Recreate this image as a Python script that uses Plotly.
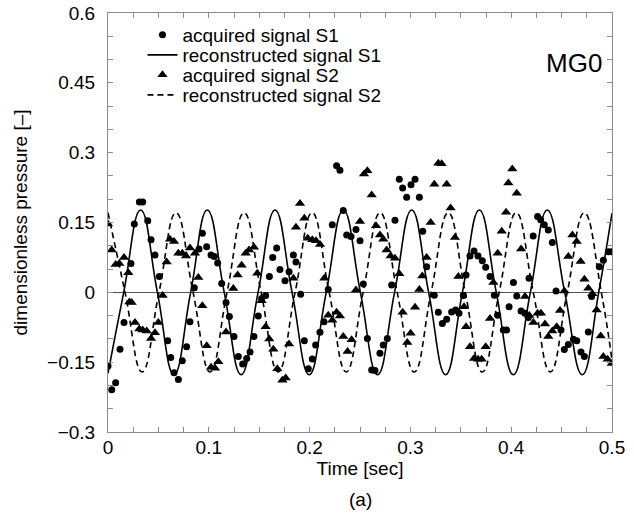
import plotly.graph_objects as go

# ---------------- data ----------------
# acquired signal S1 (circles)
t_s1 = [0.0, 0.0037, 0.0076, 0.0119, 0.0159, 0.0228, 0.0261, 0.0311, 0.0344, 0.0394,
        0.0427, 0.0466, 0.0509, 0.0592, 0.0622, 0.0655, 0.0698, 0.0737, 0.0780, 0.0813,
        0.0856, 0.0903, 0.0936, 0.0979, 0.1022, 0.1055, 0.1088, 0.1128, 0.1171, 0.1204,
        0.1250, 0.1293, 0.1336, 0.1376, 0.1409, 0.1448, 0.1491, 0.1524, 0.1564, 0.1601,
        0.1634, 0.1673, 0.1706, 0.1756, 0.1796, 0.1839, 0.1865, 0.1911, 0.1948, 0.1987,
        0.2027, 0.2060, 0.2103, 0.2143, 0.2185, 0.2225, 0.2268, 0.2301, 0.2334, 0.2368,
        0.2411, 0.2460, 0.2500, 0.2533, 0.2573, 0.2616, 0.2649, 0.2698, 0.2731, 0.2771,
        0.2814, 0.2847, 0.2890, 0.2923, 0.2963, 0.3006, 0.3046, 0.3089, 0.3122, 0.3161,
        0.3237, 0.3277, 0.3317, 0.3360, 0.3409, 0.3449, 0.3482, 0.3525, 0.3552, 0.3591,
        0.3631, 0.3671, 0.3714, 0.3747, 0.3790, 0.3833, 0.3866, 0.3922, 0.3955, 0.3979,
        0.4022, 0.4055, 0.4098, 0.4137, 0.4170, 0.4177, 0.4218, 0.4262, 0.4292, 0.4328,
        0.4368, 0.4408, 0.4445, 0.4494, 0.4527, 0.4567, 0.4617, 0.4650, 0.4692, 0.4726,
        0.4765, 0.4798, 0.4874, 0.4914, 0.4964, 0.4997]
p_s1 = [-0.158, -0.209, -0.194, -0.122, -0.065, 0.062, 0.147, 0.194, 0.194, 0.154,
        0.113, 0.080, 0.034, -0.104, -0.140, -0.173, -0.187, -0.147, -0.117, -0.063,
        0.010, 0.093, 0.127, 0.098, 0.080, 0.077, 0.063, 0.019, -0.022, -0.052,
        -0.095, -0.138, -0.154, -0.142, -0.128, -0.095, -0.051, -0.013, -0.007, 0.034,
        0.075, 0.095, 0.049, 0.025, 0.044, 0.080, 0.065, -0.004, -0.104, -0.164,
        -0.143, -0.113, -0.086, -0.063, 0.006, 0.145, 0.272, 0.262, 0.176, 0.123,
        0.120, 0.135, 0.111, 0.018, -0.099, -0.167, -0.168, -0.131, -0.113, -0.099,
        0.016, 0.155, 0.243, 0.224, 0.204, 0.231, 0.243, 0.204, 0.131, 0.055,
        -0.006, -0.043, -0.067, -0.058, -0.042, -0.038, -0.045, -0.007, 0.037, 0.078,
        0.089, 0.078, 0.068, 0.054, 0.034, -0.006, -0.049, -0.081, -0.081, -0.031,
        0.021, -0.008, -0.040, -0.045, -0.054, 0.030, 0.121, 0.163, 0.156, 0.145,
        0.134, 0.107, 0.003, -0.081, -0.123, -0.112, -0.101, -0.104, -0.128, -0.138,
        -0.085, -0.009, 0.055, 0.069, 0.087, 0.087]

# acquired signal S2 (triangles)
t_s2 = [0.0, 0.0037, 0.0076, 0.0112, 0.0159, 0.0202, 0.0212, 0.0235, 0.0268, 0.0311,
        0.0344, 0.0384, 0.0427, 0.0466, 0.0499, 0.0542, 0.0582, 0.0615, 0.0655, 0.0698,
        0.0737, 0.0774, 0.0813, 0.0863, 0.0896, 0.0936, 0.0979, 0.1022, 0.1062, 0.1095,
        0.1171, 0.1243, 0.1286, 0.1326, 0.1366, 0.1399, 0.1448, 0.1481, 0.1524, 0.1564,
        0.1600, 0.1640, 0.1680, 0.1730, 0.1763, 0.1796, 0.1839, 0.1865, 0.1905, 0.1948,
        0.1981, 0.2027, 0.2064, 0.2103, 0.2146, 0.2185, 0.2225, 0.2268, 0.2301, 0.2334,
        0.2377, 0.2417, 0.2460, 0.2500, 0.2540, 0.2573, 0.2616, 0.2659, 0.2698, 0.2731,
        0.2764, 0.2804, 0.2847, 0.2890, 0.2923, 0.2969, 0.3002, 0.3046, 0.3089, 0.3118,
        0.3161, 0.3201, 0.3237, 0.3277, 0.3310, 0.3360, 0.3399, 0.3442, 0.3476, 0.3532,
        0.3552, 0.3591, 0.3631, 0.3671, 0.3707, 0.3747, 0.3790, 0.3823, 0.3866, 0.3906,
        0.3949, 0.3972, 0.4011, 0.4055, 0.4098, 0.4137, 0.4180, 0.4220, 0.4262, 0.4295,
        0.4335, 0.4368, 0.4408, 0.4451, 0.4484, 0.4527, 0.4567, 0.4607, 0.4650, 0.4689,
        0.4726, 0.4765, 0.4805, 0.4848, 0.4888, 0.4914, 0.4957, 0.4997]
p_s2 = [0.147, 0.091, 0.060, 0.062, 0.075, 0.042, -0.021, -0.022, -0.065, -0.079,
        -0.081, -0.083, -0.099, -0.087, -0.065, -0.007, 0.065, 0.114, 0.109, 0.084,
        0.084, 0.078, 0.095, 0.084, 0.032, -0.029, -0.115, -0.161, -0.163, -0.149,
        -0.085, 0.008, 0.037, 0.058, 0.084, 0.091, 0.097, 0.041, -0.018, -0.074,
        -0.100, -0.122, -0.164, -0.189, -0.184, -0.111, 0.030, 0.140, 0.191, 0.159,
        0.116, 0.113, 0.111, 0.103, 0.030, -0.049, -0.060, -0.043, -0.051, -0.095,
        -0.127, -0.102, 0.005, 0.152, 0.254, 0.261, 0.209, 0.143, 0.123, 0.114,
        0.091, 0.078, 0.073, 0.040, -0.043, -0.108, -0.088, -0.032, 0.006, 0.035,
        0.075, 0.150, 0.232, 0.277, 0.276, 0.232, 0.181, 0.118, 0.034, -0.031,
        -0.074, -0.117, -0.142, -0.144, -0.144, -0.117, -0.056, 0.021, 0.084, 0.131,
        0.172, 0.235, 0.265, 0.213, 0.093, -0.009, -0.050, -0.065, -0.045, -0.045,
        -0.068, -0.095, -0.083, -0.074, -0.039, 0.003, 0.077, 0.123, 0.109, 0.066,
        0.028, 0.009, -0.003, -0.038, -0.094, -0.138, -0.144, -0.153]

# reconstructed signal S1: crests, zero crossings and troughs
t_r1 = [0.0, 0.0156, 0.0324, 0.0490, 0.0655, 0.0820, 0.0985, 0.1153, 0.1321, 0.1489,
        0.1657, 0.1826, 0.1996, 0.2165, 0.2335, 0.2504, 0.2674, 0.2843, 0.3013, 0.3181,
        0.3349, 0.3516, 0.3684, 0.3852, 0.4021, 0.4190, 0.4358, 0.4531, 0.4705, 0.4868,
        0.5]
p_r1 = [-0.174, 0.0, 0.177, 0.0, -0.177, 0.0, 0.177, 0.0, -0.177, 0.0,
        0.177, 0.0, -0.177, 0.0, 0.177, 0.0, -0.177, 0.0, 0.177, 0.0,
        -0.177, 0.0, 0.177, 0.0, -0.177, 0.0, 0.177, 0.0, -0.177, 0.0,
        0.170]

# reconstructed signal S2: crests, zero crossings and troughs
t_r2 = [0.0, 0.0169, 0.0338, 0.0506, 0.0675, 0.0844, 0.1013, 0.1181, 0.1350, 0.1519,
        0.1688, 0.1856, 0.2025, 0.2194, 0.2363, 0.2531, 0.2700, 0.2869, 0.3038, 0.3206,
        0.3375, 0.3544, 0.3713, 0.3881, 0.4050, 0.4219, 0.4388, 0.4556, 0.4725, 0.4894,
        0.5]
p_r2 = [0.171, 0.0, -0.171, 0.0, 0.171, 0.0, -0.171, 0.0, 0.171, 0.0,
        -0.171, 0.0, 0.171, 0.0, -0.171, 0.0, 0.171, 0.0, -0.171, 0.0,
        0.171, 0.0, -0.171, 0.0, 0.171, 0.0, -0.171, 0.0, 0.171, 0.0,
        -0.146]

x_tickvals = [0, 0.1, 0.2, 0.3, 0.4, 0.5]
x_ticktext = ["0", "0.1", "0.2", "0.3", "0.4", "0.5"]
y_tickvals = [-0.3, -0.15, 0, 0.15, 0.3, 0.45, 0.6]
y_ticktext = ["\u22120.3", "\u22120.15", "0", "0.15", "0.3", "0.45", "0.6"]

# ---------------- figure ----------------
FONT = "Liberation Sans, Arial, Helvetica, sans-serif"
FS = 19
FRAME = "#8c8c8c"

fig = go.Figure()

fig.add_trace(go.Scatter(
    x=t_r1, y=p_r1, mode="lines", name="reconstructed signal S1", legend="legend2",
    line=dict(color="black", width=1.6, shape="spline", smoothing=1.3)))
fig.add_trace(go.Scatter(
    x=t_r2, y=p_r2, mode="lines", name="reconstructed signal S2", legend="legend4",
    line=dict(color="black", width=1.6, dash="6px,4px", shape="spline", smoothing=1.3)))
fig.add_trace(go.Scatter(
    x=t_s1, y=p_s1, mode="markers", name="acquired signal S1", legend="legend",
    marker=dict(symbol="circle", size=7, color="black")))
fig.add_trace(go.Scatter(
    x=t_s2, y=p_s2, mode="markers", name="acquired signal S2", legend="legend3",
    marker=dict(symbol="triangle-up", size=9, color="black")))

axis_common = dict(
    showline=True, linecolor=FRAME, linewidth=1, mirror="ticks",
    ticks="inside", ticklen=5, tickcolor=FRAME, tickwidth=1,
    showgrid=False, automargin=False, ticklabeloverflow="allow",
    tickfont=dict(family=FONT, size=FS, color="black"),
)

fig.update_xaxes(
    range=[0, 0.5], tickmode="array", tickvals=x_tickvals, ticktext=x_ticktext,
    minor=dict(tickmode="linear", tick0=0, dtick=0.025, ticks="inside", ticklen=5,
               tickcolor=FRAME, tickwidth=1, showgrid=False),
    zeroline=False, ticklabelstandoff=-2,
    title=dict(text="Time [sec]", font=dict(family=FONT, size=FS, color="black"), standoff=4),
    **axis_common)
fig.update_yaxes(
    range=[-0.3, 0.6], tickmode="array", tickvals=y_tickvals, ticktext=y_ticktext,
    minor=dict(tickmode="linear", tick0=0, dtick=0.05, ticks="inside", ticklen=5,
               tickcolor=FRAME, tickwidth=1, showgrid=False),
    zeroline=True, zerolinecolor="#555555", zerolinewidth=1, ticklabelstandoff=8,
    title=dict(text="dimensionless pressure [\u2013]", font=dict(family=FONT, size=FS, color="black"), standoff=14),
    **axis_common)

fig.add_annotation(text="MG0", xref="paper", yref="paper", x=0.985, y=0.88,
                   xanchor="right", yanchor="middle", showarrow=False,
                   font=dict(family=FONT, size=26, color="black"))
fig.add_annotation(text="(a)", xref="paper", yref="paper", x=0.5, y=-0.162,
                   xanchor="center", yanchor="middle", showarrow=False,
                   font=dict(family=FONT, size=FS, color="black"))

leg_common = dict(x=0.0684, xanchor="left", yanchor="middle",
                  bgcolor="rgba(0,0,0,0)", borderwidth=0,
                  font=dict(family=FONT, size=FS, color="black"), itemwidth=30)

fig.update_layout(
    width=634, height=519,
    margin=dict(l=108, r=22, t=13, b=87),
    paper_bgcolor="white", plot_bgcolor="white",
    font=dict(family=FONT, size=FS, color="black"),
    showlegend=True,
    legend=dict(y=0.9475, **leg_common),
    legend2=dict(y=0.8998, **leg_common),
    legend3=dict(y=0.852, **leg_common),
    legend4=dict(y=0.8043, **leg_common),
)

# remove the browser's default 8 px page margin so the figure fills the window
fig.write_html("out.html",
               config={"displayModeBar": False},
               post_script="document.body.style.margin='0';document.body.style.overflow='hidden';")
